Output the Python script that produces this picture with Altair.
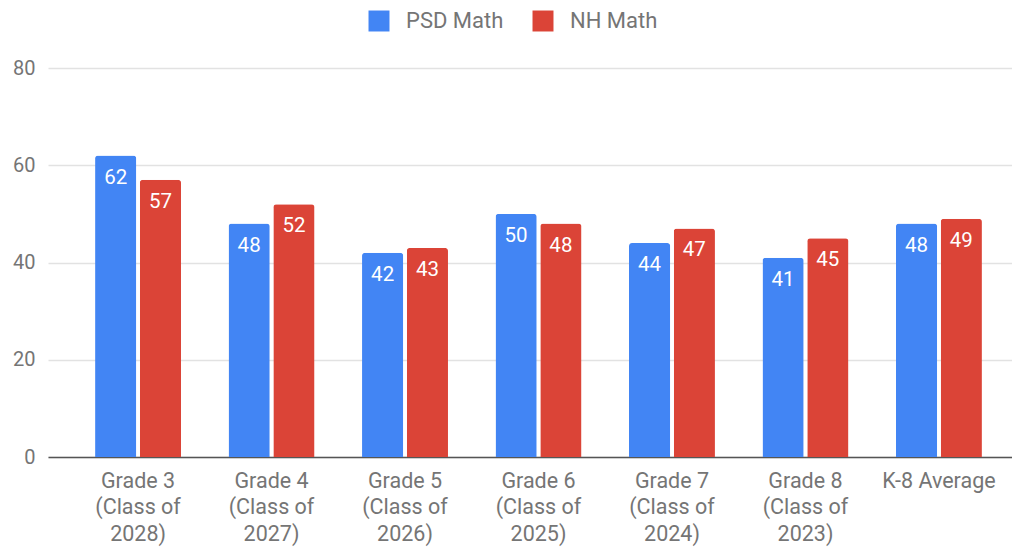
import altair as alt
import pandas as pd

categories = [
    "Grade 3\n(Class of\n2028)",
    "Grade 4\n(Class of\n2027)",
    "Grade 5\n(Class of\n2026)",
    "Grade 6\n(Class of\n2025)",
    "Grade 7\n(Class of\n2024)",
    "Grade 8\n(Class of\n2023)",
    "K-8 Average",
]
series = ["PSD Math", "NH Math"]
psd_math = [62, 48, 42, 50, 44, 41, 48]
nh_math = [57, 52, 43, 48, 47, 45, 49]
colors = ["#4285F4", "#DB4437"]
y_ticks = [0, 20, 40, 60, 80]

rows = []
for c, p, n in zip(categories, psd_math, nh_math):
    rows.append({"cat": c, "series": series[0], "value": p})
    rows.append({"cat": c, "series": series[1], "value": n})
df = pd.DataFrame(rows)

FONT = "Roboto"

base = alt.Chart(df).encode(
    x=alt.X(
        "cat:N",
        sort=categories,
        title=None,
        scale=alt.Scale(paddingInner=0.356, paddingOuter=0.289, align=0.61),
        axis=alt.Axis(
            labelAngle=0,
            labelExpr="split(datum.label, '\\n')",
            labelFont=FONT,
            labelFontSize=21.5,
            labelColor="#757575",
            labelLineHeight=26.5,
            labelPadding=13,
            ticks=False,
            grid=False,
            domainColor="#555555",
            domainWidth=1.5,
            labelLimit=200,
        ),
    ),
    xOffset=alt.XOffset(
        "series:N", sort=series, scale=alt.Scale(paddingInner=0.08, paddingOuter=0)
    ),
    y=alt.Y(
        "value:Q",
        title=None,
        scale=alt.Scale(domain=[0, 80], nice=False),
        axis=alt.Axis(
            values=y_ticks,
            labelFont=FONT,
            labelFontSize=20,
            labelColor="#757575",
            labelPadding=13,
            ticks=False,
            domain=False,
            gridColor="#e2e2e2",
            gridWidth=1.5,
        ),
    ),
)

bars = base.mark_bar(cornerRadiusTopLeft=3, cornerRadiusTopRight=3).encode(
    color=alt.Color(
        "series:N",
        sort=series,
        scale=alt.Scale(domain=series, range=colors),
        legend=alt.Legend(
            title=None,
            orient="none",
            legendX=320,
            legendY=-58,
            direction="horizontal",
            symbolType="square",
            symbolSize=440,
            symbolStrokeWidth=0,
            labelFont=FONT,
            labelFontSize=22,
            labelColor="#757575",
            labelOffset=16,
            columnPadding=28,
        ),
    )
)

labels = base.mark_text(
    baseline="top", dy=12, color="white", font=FONT, fontSize=20.5
).encode(text=alt.Text("value:Q"))

chart = (
    alt.layer(bars, labels)
    .properties(
        width=964,
        height=389,
        autosize=alt.AutoSizeParams(type="none"),
        padding={"left": 40, "top": 60, "right": 0, "bottom": 92},
        view=alt.ViewBackground(stroke="transparent", strokeWidth=0),
    )
    .configure_view(strokeWidth=0, stroke="transparent")
    .configure(background="white")
)

chart.save("out.html", embed_options={"renderer": "svg", "actions": False})
